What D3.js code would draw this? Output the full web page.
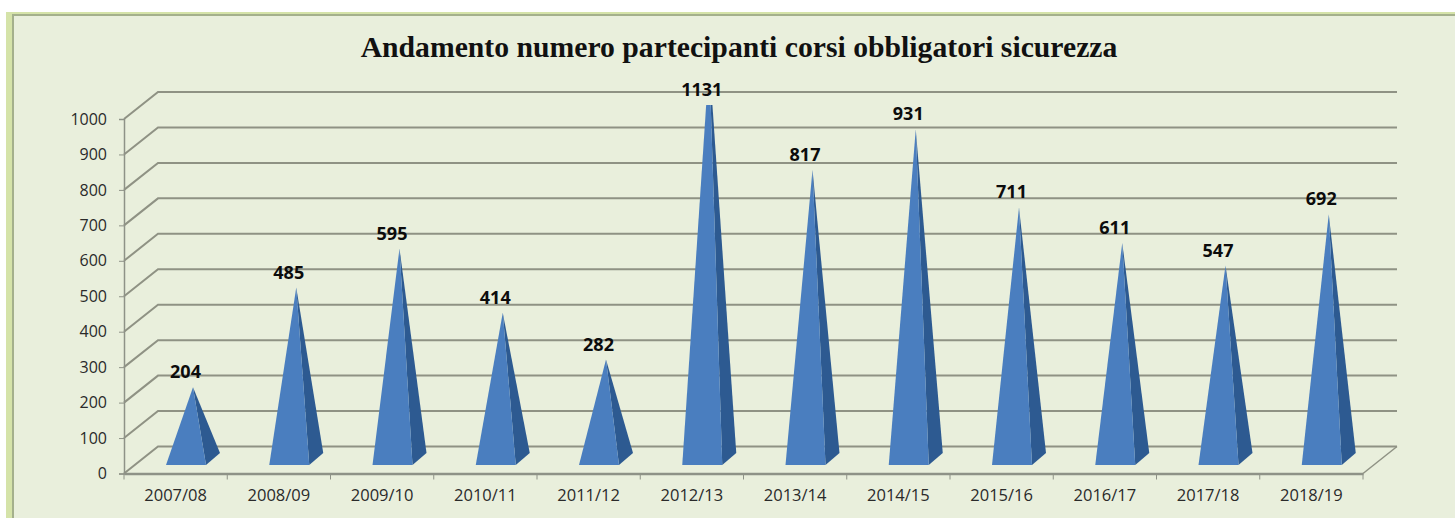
<!DOCTYPE html>
<html>
<head>
<meta charset="utf-8">
<script src="https://cdn.jsdelivr.net/npm/d3@7"></script>
<style>
  html, body { margin: 0; padding: 0; background: #fff; }
  svg { display: block; }
  .axis text { font-family: "Open Sans", sans-serif; fill: #2a2a2a; }
  .axis .domain, .axis line { stroke: #8e9287; }
</style>
</head>
<body>
<div id="chart"></div>
<script>
const categories = ["2007/08", "2008/09", "2009/10", "2010/11", "2011/12", "2012/13",
                    "2013/14", "2014/15", "2015/16", "2016/17", "2017/18", "2018/19"];
const values = [204, 485, 595, 414, 282, 1131, 817, 931, 711, 611, 547, 692];
const yTicks = [0, 100, 200, 300, 400, 500, 600, 700, 800, 900, 1000];
const title = "Andamento numero partecipanti corsi obbligatori sicurezza";

const width = 1455, height = 519;
// fake 3d: back wall is shifted from the front plane by this much
const depthX = 34, depthY = -27;

const svg = d3.select("#chart").append("svg")
    .attr("width", width)
    .attr("height", height);

// panel with the green border
svg.append("rect").attr("x", 6).attr("y", 12).attr("width", width - 6).attr("height", height - 13)
    .attr("fill", "#d5e3a9");
svg.append("rect").attr("x", 12).attr("y", 14).attr("width", width - 12).attr("height", height - 15)
    .attr("fill", "#a4b08c");
svg.append("rect").attr("x", 14).attr("y", 16).attr("width", width - 14).attr("height", height - 17)
    .attr("fill", "#e9efdc");

const x = d3.scaleBand().domain(categories).range([124, 1363]);
const y = d3.scaleLinear().domain([0, 1000]).range([473.5, 119]);

const defs = svg.append("defs");
defs.append("clipPath").attr("id", "plot-clip").append("rect")
    .attr("x", 0).attr("width", width)
    .attr("y", y(1000) - 14).attr("height", y(0) - y(1000) + 14);

// gridlines on the side wall and the back wall
const grid = svg.append("g").attr("fill", "none").attr("stroke", "#8f9284").attr("stroke-width", 2);
grid.selectAll(".wall")
    .data(yTicks)
    .join("path")
    .attr("class", "wall")
    .attr("d", d => d3.line()([
      [x.range()[0], y(d)],
      [x.range()[0] + depthX, y(d) + depthY],
      [x.range()[1] + depthX, y(d) + depthY]
    ]));

// floor, right hand edge
grid.append("path")
    .attr("stroke-width", 1.5)
    .attr("d", d3.line()([
      [x.range()[1], y(0)],
      [x.range()[1] + depthX, y(0) + depthY]
    ]));

// axes
const yAxisG = svg.append("g")
    .attr("class", "axis")
    .attr("transform", `translate(${x.range()[0]},0)`)
    .call(d3.axisLeft(y).tickValues(yTicks).tickSize(5).tickPadding(12).tickFormat(d3.format("d")));
yAxisG.selectAll("text").attr("font-size", 16);
yAxisG.select(".domain").attr("stroke-width", 1.5);

const xAxisG = svg.append("g")
    .attr("class", "axis")
    .attr("transform", `translate(0,${y(0)})`)
    .call(d3.axisBottom(x).tickSize(0).tickPadding(16));
xAxisG.selectAll("text").attr("font-size", 16.5);
xAxisG.select(".domain").attr("stroke-width", 2.5);
xAxisG.selectAll(".sep")
    .data(categories.concat("end"))
    .join("line")
    .attr("class", "sep")
    .attr("x1", (d, i) => x.range()[0] + i * x.bandwidth())
    .attr("x2", (d, i) => x.range()[0] + i * x.bandwidth())
    .attr("y1", 0).attr("y2", 6);

// pyramids
const baseY = y(0) - 8.5, faceW = 40, sideX = 14, sideY = -12, leftPad = 42, apexDx = 27;
const apexY = d => y(d) - 14;

const bars = svg.append("g").attr("clip-path", "url(#plot-clip)")
    .selectAll("g")
    .data(categories.map((c, i) => ({c: c, v: values[i]})))
    .join("g");

bars.append("path")
    .attr("fill", "#2d5a91")
    .attr("d", d => {
      const l = x(d.c) + leftPad;
      return d3.line()([[l + faceW, baseY], [l + faceW + sideX, baseY + sideY], [l + apexDx, apexY(d.v)]]) + "Z";
    });

bars.append("path")
    .attr("fill", "#4a7ebf")
    .attr("d", d => {
      const l = x(d.c) + leftPad;
      return d3.line()([[l, baseY], [l + faceW, baseY], [l + apexDx, apexY(d.v)]]) + "Z";
    });

// value labels
svg.append("g").selectAll("text")
    .data(categories.map((c, i) => ({c: c, v: values[i]})))
    .join("text")
    .attr("x", d => x(d.c) + leftPad + apexDx - 7.5)
    .attr("y", d => apexY(Math.min(d.v, 1000)) - 9)
    .attr("text-anchor", "middle")
    .attr("font-family", "'Open Sans', sans-serif")
    .attr("font-weight", "bold")
    .attr("font-size", 18)
    .attr("fill", "#0c0c0c")
    .text(d => d.v);

svg.append("text")
    .attr("x", 739)
    .attr("y", 57)
    .attr("text-anchor", "middle")
    .attr("font-family", "'Liberation Serif', serif")
    .attr("font-weight", "bold")
    .attr("font-size", 29.7)
    .attr("fill", "#111")
    .text(title);
</script>
</body>
</html>
